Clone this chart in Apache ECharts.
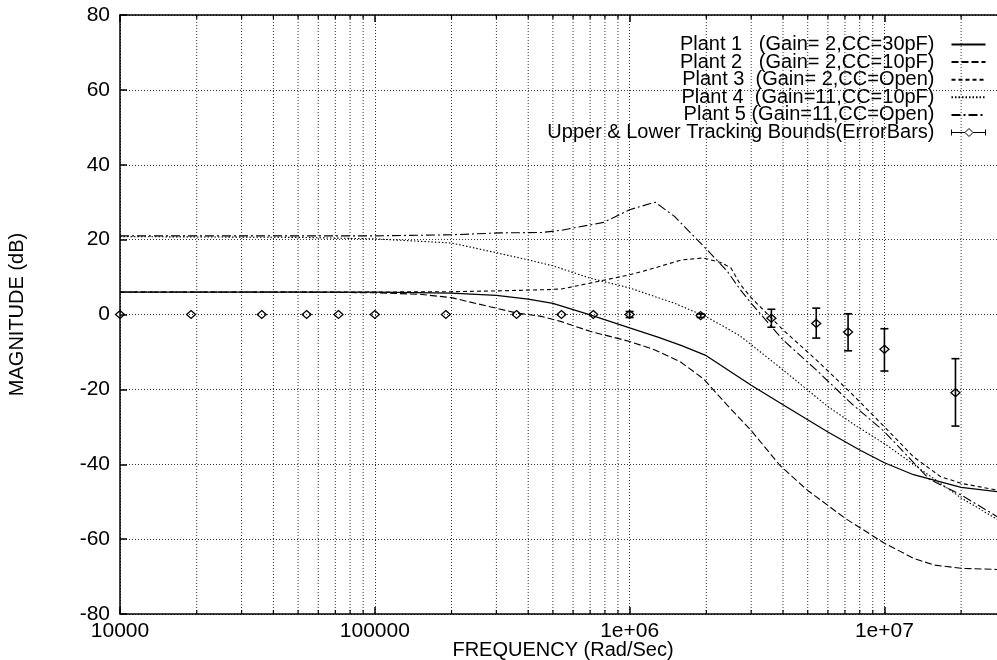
<!DOCTYPE html>
<html><head><meta charset="utf-8">
<script src="https://cdn.jsdelivr.net/npm/echarts@6/dist/echarts.min.js"></script>
<style>html,body{margin:0;padding:0;background:#fff}#c{width:997px;height:660px}</style>
</head><body><div id="c"></div>
<script>
// ---- data ----
const xTickValues = [1e4, 1e5, 1e6, 1e7];
const xTickLabels = ['10000', '100000', '1e+06', '1e+07'];
const minorFreqs = [2e4,3e4,4e4,5e4,6e4,7e4,8e4,9e4, 2e5,3e5,4e5,5e5,6e5,7e5,8e5,9e5, 2e6,3e6,4e6,5e6,6e6,7e6,8e6,9e6, 2e7];

const seriesNames = [
  'Plant 1   (Gain= 2,CC=30pF)',
  'Plant 2   (Gain= 2,CC=10pF)',
  'Plant 3  (Gain= 2,CC=Open)',
  'Plant 4  (Gain=11,CC=10pF)',
  'Plant 5 (Gain=11,CC=Open)',
  'Upper & Lower Tracking Bounds(ErrorBars)'
];

const p1F = [1e4, 3e4, 1e5, 2e5, 3e5, 4e5, 5e5, 7e5, 1e6, 1.3e6, 1.6e6, 2e6, 3e6, 4e6, 6e6, 8e6, 1e7, 1.3e7, 2e7, 2.77e7];
const p1M = [6.0, 6.0, 6.0, 5.7, 5.1, 4.1, 3.0, -0.1, -3.6, -6.1, -8.3, -11.0, -18.9, -24.1, -31.4, -36.2, -39.6, -42.8, -46.2, -47.3];

const p2F = [1e4, 5e4, 1e5, 1.5e5, 2e5, 3.6e5, 4.5e5, 5.4e5, 7e5, 1e6, 1.25e6, 1.58e6, 1.95e6, 2.4e6, 3e6, 3.9e6, 5e6, 6e6, 7e6, 1e7, 1.3e7, 1.56e7, 2e7, 2.77e7];
const p2M = [6.0, 6.0, 5.8, 5.4, 4.5, 0.4, -0.5, -1.9, -4.5, -7.2, -9.4, -12.6, -17.2, -24.0, -31.0, -40.4, -47.0, -51.0, -54.4, -61.1, -65.1, -66.9, -67.8, -68.1];

const p3F = [1e4, 1e5, 2e5, 3e5, 4.5e5, 5.4e5, 7e5, 1e6, 1.25e6, 1.6e6, 1.95e6, 2.28e6, 2.5e6, 2.72e6, 3e6, 4e6, 5.4e6, 7.4e6, 1e7, 1.3e7, 1.66e7, 2e7, 2.77e7];
const p3M = [6.0, 6.0, 6.1, 6.3, 6.6, 6.8, 8.4, 10.6, 12.4, 14.6, 15.1, 13.9, 12.4, 8.0, 4.5, -4.1, -12.1, -21.0, -30.0, -38.0, -43.3, -45.1, -46.9];

const p4F = [1e4, 5e4, 1e5, 2e5, 3e5, 4e5, 5e5, 7e5, 1e6, 1.5e6, 2e6, 2.7e6, 4e6, 6e6, 7.8e6, 1e7, 1.5e7, 2e7, 2.77e7];
const p4M = [20.8, 20.6, 20.2, 19.1, 16.5, 14.6, 13.0, 9.7, 7.1, 3.0, -0.6, -5.6, -14.8, -24.6, -29.9, -34.5, -43.0, -49.0, -54.7];

const p5F = [1e4, 1e5, 2e5, 3.1e5, 4.5e5, 5.4e5, 6e5, 7.9e5, 1e6, 1.26e6, 1.5e6, 1.84e6, 2e6, 2.42e6, 2.72e6, 3e6, 4e6, 5.4e6, 7.4e6, 1e7, 1.5e7, 2e7, 2.77e7];
const p5M = [21.0, 21.0, 21.3, 21.8, 21.9, 22.5, 23.1, 24.6, 28.0, 30.0, 26.2, 20.0, 17.5, 11.5, 6.6, 3.0, -6.8, -14.8, -23.7, -31.3, -44.0, -48.2, -54.0];

const bF   = [1e4, 1.9e4, 3.6e4, 5.4e4, 7.2e4, 1e5, 1.9e5, 3.6e5, 5.4e5, 7.2e5, 1e6, 1.9e6, 3.6e6, 5.4e6, 7.2e6, 1e7, 1.9e7];
const bMid = [0, 0, 0, 0, 0, 0, 0, 0, 0, 0, 0, -0.3, -1.0, -2.4, -4.7, -9.3, -20.9];
const bLo  = [0, 0, 0, 0, 0, 0, 0, 0, 0, 0, -0.8, -0.8, -3.4, -6.3, -9.7, -15.1, -29.8];
const bHi  = [0, 0, 0, 0, 0, 0, 0, 0, 0, 0, 0.8, 0.2, 1.4, 1.7, 0.2, -3.8, -11.8];

const xMin = 1e4, xMax = 3e7, yMin = -80, yMax = 80, yStep = 20;

// ---- helpers ----
const zip = (a, b) => a.map((v, i) => [v, b[i]]);
const FONT = '"Liberation Sans", Arial, Helvetica, sans-serif';
const INK = '#000';

const lineSeries = (name, F, M, type, width) => ({
  name, type: 'line', data: zip(F, M), showSymbol: false, symbol: 'none',
  smooth: false, silent: true,
  itemStyle: { color: INK },
  lineStyle: { color: INK, width: width, type: type },
  z: 5
});

const chart = echarts.init(document.getElementById('c'), null, { renderer: 'canvas' });

const option = {
  animation: false,
  backgroundColor: '#fff',
  textStyle: { fontFamily: FONT, color: '#000' },
  grid: { left: 120, right: -9, top: 15, bottom: 46, containLabel: false, outerBoundsMode: 'none' },
  legend: {
    orient: 'vertical', align: 'right', right: 4, top: 29.5, padding: 5,
    itemWidth: 34, itemHeight: 14, itemGap: -2.4,
    textStyle: { fontFamily: FONT, fontSize: 20, color: '#000', padding: [0, 12, 0, 0] },
    itemStyle: { opacity: 0 },
    selectedMode: false,
    data: [
      seriesNames[0], seriesNames[1], seriesNames[2], seriesNames[3], seriesNames[4],
      { name: seriesNames[5],
        icon: 'path://M0,4L0,10M0,7L13.5,7M21.5,7L34,7M34,4L34,10M17.5,3L21.5,7L17.5,11L13.5,7Z',
        itemStyle: { opacity: 1, color: 'none', borderColor: INK, borderWidth: 1 } }
    ]
  },
  xAxis: [{
    type: 'log', logBase: 10, min: xMin, max: xMax,
    name: 'FREQUENCY (Rad/Sec)', nameLocation: 'middle', nameGap: 26, nameMoveOverlap: false,
    nameTextStyle: { fontFamily: FONT, fontSize: 20, color: '#000' },
    axisLine: { show: true, onZero: false, lineStyle: { color: '#000', width: 1.5 } },
    axisTick: { show: true, inside: true, length: 7, lineStyle: { color: '#000', width: 1.5 } },
    axisLabel: {
      margin: 7, fontFamily: FONT, fontSize: 21, color: '#000',
      formatter: (v) => {
        const i = xTickValues.findIndex(t => Math.abs(Math.log10(t) - Math.log10(v)) < 1e-6);
        return i >= 0 ? xTickLabels[i] : '';
      }
    },
    splitLine: { show: true, lineStyle: { color: '#333', width: 1, type: [1, 2] } }
  }, {
    type: 'log', logBase: 10, min: xMin, max: xMax, position: 'top',
    axisLine: { show: true, onZero: false, lineStyle: { color: '#000', width: 1.5 } },
    axisTick: { show: true, inside: true, length: 7, lineStyle: { color: '#000', width: 1.5 } },
    axisLabel: { show: false }, splitLine: { show: false }
  }],
  yAxis: {
    type: 'value', min: yMin, max: yMax, interval: yStep,
    name: 'MAGNITUDE (dB)', nameLocation: 'middle', nameGap: 93, nameMoveOverlap: false,
    nameTextStyle: { fontFamily: FONT, fontSize: 20, color: '#000' },
    axisLine: { show: true, onZero: false, lineStyle: { color: '#000', width: 1.5 } },
    axisTick: { show: true, inside: true, length: 7, lineStyle: { color: '#000', width: 1.5 } },
    axisLabel: { margin: 10, fontFamily: FONT, fontSize: 21, color: '#000' },
    splitLine: { show: true, lineStyle: { color: '#333', width: 1, type: [1, 2] } }
  },
  series: [
    {
      name: 'minorGrid', type: 'custom', silent: true, z: 1,
      data: minorFreqs.map(f => [f, 0]),
      renderItem: (params, api) => {
        const f = api.value(0);
        const pb = api.coord([f, yMin]);
        const pt = api.coord([f, yMax]);
        return { type: 'group', children: [
          { type: 'line', shape: { x1: pb[0], y1: pb[1], x2: pt[0], y2: pt[1] },
            style: { stroke: '#333', lineWidth: 1, lineDash: [1, 2] } },
          { type: 'line', shape: { x1: pb[0], y1: pb[1], x2: pb[0], y2: pb[1] - 4 },
            style: { stroke: '#000', lineWidth: 1.2 } },
          { type: 'line', shape: { x1: pt[0], y1: pt[1], x2: pt[0], y2: pt[1] + 4 },
            style: { stroke: '#000', lineWidth: 1.2 } }
        ] };
      }
    },
    lineSeries(seriesNames[0], p1F, p1M, 'solid', 1.3),
    lineSeries(seriesNames[1], p2F, p2M, [7, 3], 1.1),
    lineSeries(seriesNames[2], p3F, p3M, [4, 3], 1.1),
    lineSeries(seriesNames[3], p4F, p4M, [1.5, 2], 1.1),
    lineSeries(seriesNames[4], p5F, p5M, [9, 3, 2, 3], 1.1),
    {
      name: seriesNames[5], type: 'custom', z: 6, silent: true,
      itemStyle: { color: INK },
      data: bF.map((f, i) => [f, bMid[i], bLo[i], bHi[i]]),
      encode: { x: 0, y: [1, 2, 3] },
      renderItem: (params, api) => {
        const f = api.value(0);
        const pc = api.coord([f, api.value(1)]);
        const pl = api.coord([f, api.value(2)]);
        const ph = api.coord([f, api.value(3)]);
        const children = [];
        if (Math.abs(pl[1] - ph[1]) > 0.5) {
          children.push(
            { type: 'line', shape: { x1: pl[0], y1: pl[1], x2: ph[0], y2: ph[1] }, style: { stroke: INK, lineWidth: 1.6 } },
            { type: 'line', shape: { x1: pl[0] - 4, y1: pl[1], x2: pl[0] + 4, y2: pl[1] }, style: { stroke: INK, lineWidth: 1.6 } },
            { type: 'line', shape: { x1: ph[0] - 4, y1: ph[1], x2: ph[0] + 4, y2: ph[1] }, style: { stroke: INK, lineWidth: 1.6 } }
          );
        }
        children.push({ type: 'polygon', shape: { points: [
          [pc[0], pc[1] - 4], [pc[0] + 4.5, pc[1]], [pc[0], pc[1] + 4], [pc[0] - 4.5, pc[1]] ] },
          style: { fill: 'none', stroke: INK, lineWidth: 1.3 } });
        return { type: 'group', children };
      }
    }
  ]
};
chart.setOption(option);
</script>
</body></html>
